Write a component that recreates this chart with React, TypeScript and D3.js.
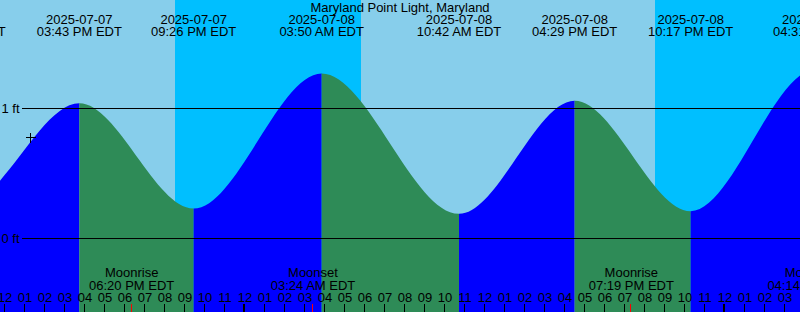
import React, { useEffect } from "react";
import * as d3 from "d3";

const chartTitle = "Maryland Point Light, Maryland";
const domainTimes = ["2025-07-07 11:45", "2025-07-09 03:45"];

const tideTimes = [
  "2025-07-07 03:10",
  "2025-07-07 09:55",
  "2025-07-07 15:43",
  "2025-07-07 21:26",
  "2025-07-08 03:50",
  "2025-07-08 10:42",
  "2025-07-08 16:29",
  "2025-07-08 22:17",
  "2025-07-09 04:31",
  "2025-07-09 11:25",
];
const tideLevels = [1.25, 0.26, 1.04, 0.23, 1.27, 0.19, 1.06, 0.21, 1.3, 0.18];
const tideKinds = ["high", "low", "high", "low", "high", "low", "high", "low", "high", "low"];

const moonTimes = ["2025-07-07 18:20", "2025-07-08 03:24", "2025-07-08 19:19", "2025-07-09 04:14"];
const moonEvents = ["Moonrise", "Moonset", "Moonrise", "Moonset"];

const sunTimes = ["2025-07-07 20:30", "2025-07-08 05:48", "2025-07-08 20:30"];
const sunEvents = ["set", "rise", "set"];

const levelTicks = [0, 1];
const levelTickLabels = ["0 ft", "1 ft"];

const nowTime = "2025-07-07 13:15";
const nowLevel = 0.78;

const W = 800;
const H = 312;
const FONT = "'Liberation Sans', Arial, Helvetica, sans-serif";

const COLORS = {
  day: "#87CEEB",
  night: "#00BFFF",
  rising: "#0000FF",
  falling: "#2E8B57",
  ink: "#000000",
  moon: "#FF0000",
};

export default function App() {
  useEffect(() => {
    document.body.style.margin = "0";
  }, []);

  const parse = d3.timeParse("%Y-%m-%d %H:%M");
  const fmtDate = d3.timeFormat("%Y-%m-%d");
  const fmtTime = d3.timeFormat("%I:%M %p EDT");
  const fmtHour = d3.timeFormat("%I");

  const domain = domainTimes.map((s) => parse(s) as Date);
  const x = d3.scaleTime().domain(domain).range([0, W]);
  const y = d3.scaleLinear().domain([0, 1]).range([238.5, 108.5]);

  const tides = tideTimes.map((s, i) => ({
    t: parse(s) as Date,
    v: tideLevels[i],
    kind: tideKinds[i],
  }));

  const area = d3
    .area<{ t: Date; v: number }>()
    .x((d) => x(d.t))
    .y0(H)
    .y1((d) => y(d.v))
    .curve(d3.curveMonotoneX);
  const areaPath = area(tides) || "";

  const sun = sunTimes.map((s, i) => ({ t: parse(s) as Date, e: sunEvents[i] }));
  const nights: { a: Date; b: Date }[] = [];
  sun.forEach((s, i) => {
    if (s.e === "set") {
      const next = sun.slice(i + 1).find((n) => n.e === "rise");
      nights.push({ a: s.t, b: next ? next.t : domain[1] });
    }
  });

  const segments = tides.slice(0, -1).map((d, i) => ({
    x0: x(d.t),
    x1: x(tides[i + 1].t),
    color: tides[i + 1].kind === "high" ? COLORS.rising : COLORS.falling,
  }));

  const hours = x.ticks(d3.timeHour.every(1) as any);
  const moons = moonTimes.map((s, i) => ({ t: parse(s) as Date, name: moonEvents[i] }));

  const nowX = Math.round(x(parse(nowTime) as Date)) + 0.5;
  const nowY = Math.round(y(nowLevel)) + 0.5;

  return (
    <svg
      width={W}
      height={H}
      style={{ position: "absolute", left: 0, top: 0, display: "block" }}
      fontFamily={FONT}
    >
      <defs>
        {segments.map((s, i) => (
          <clipPath id={`seg${i}`} key={i}>
            <rect x={s.x0} y={0} width={s.x1 - s.x0} height={H} />
          </clipPath>
        ))}
      </defs>
      <rect x={0} y={0} width={W} height={H} fill={COLORS.day} />
      {nights.map((n, i) => (
        <rect
          key={i}
          x={x(n.a)}
          y={0}
          width={x(n.b) - x(n.a)}
          height={H}
          fill={COLORS.night}
        />
      ))}
      {segments.map((s, i) => (
        <path key={i} d={areaPath} fill={s.color} clipPath={`url(#seg${i})`} />
      ))}

      {levelTicks.map((v, i) => (
        <g key={i}>
          <line
            x1={22}
            x2={W}
            y1={y(v)}
            y2={y(v)}
            stroke={COLORS.ink}
            strokeWidth={1}
            shapeRendering="crispEdges"
          />
          <text x={1.5} y={y(v) + 4.5} fontSize={13} fill={COLORS.ink}>
            {levelTickLabels[i]}
          </text>
        </g>
      ))}

      <text x={W / 2} y={11.5} fontSize={13} textAnchor="middle" fill={COLORS.ink}>
        {chartTitle}
      </text>

      {tides.map((d, i) => (
        <g key={i} fontSize={13} textAnchor="middle" fill={COLORS.ink}>
          <text x={x(d.t)} y={24}>
            {fmtDate(d.t)}
          </text>
          <text x={x(d.t)} y={36}>
            {fmtTime(d.t)}
          </text>
        </g>
      ))}

      {moons.map((m, i) => (
        <g key={i} fontSize={13} textAnchor="middle" fill={COLORS.ink}>
          <text x={x(m.t)} y={277}>
            {m.name}
          </text>
          <text x={x(m.t)} y={289.5}>
            {fmtTime(m.t)}
          </text>
        </g>
      ))}

      {hours.map((h, i) => {
        const hx = x(h);
        const midnight = h.getHours() === 0;
        return (
          <g key={i}>
            <text x={hx} y={302} fontSize={13} textAnchor="middle" fill={COLORS.ink}>
              {fmtHour(h)}
            </text>
            <rect
              x={midnight ? Math.round(hx) - 2 : Math.round(hx) - 1}
              y={304}
              width={midnight ? 2 : 1}
              height={H - 304}
              fill={COLORS.ink}
              shapeRendering="crispEdges"
            />
          </g>
        );
      })}

      {moons.map((m, i) => (
        <rect
          key={i}
          x={Math.round(x(m.t)) - 1}
          y={304}
          width={1}
          height={H - 304}
          fill={COLORS.moon}
          shapeRendering="crispEdges"
        />
      ))}

      <g stroke={COLORS.ink} strokeWidth={1.2} shapeRendering="crispEdges">
        <line x1={nowX - 5} x2={nowX + 5} y1={nowY} y2={nowY} />
        <line x1={nowX} x2={nowX} y1={nowY - 5} y2={nowY + 5} />
      </g>
    </svg>
  );
}
